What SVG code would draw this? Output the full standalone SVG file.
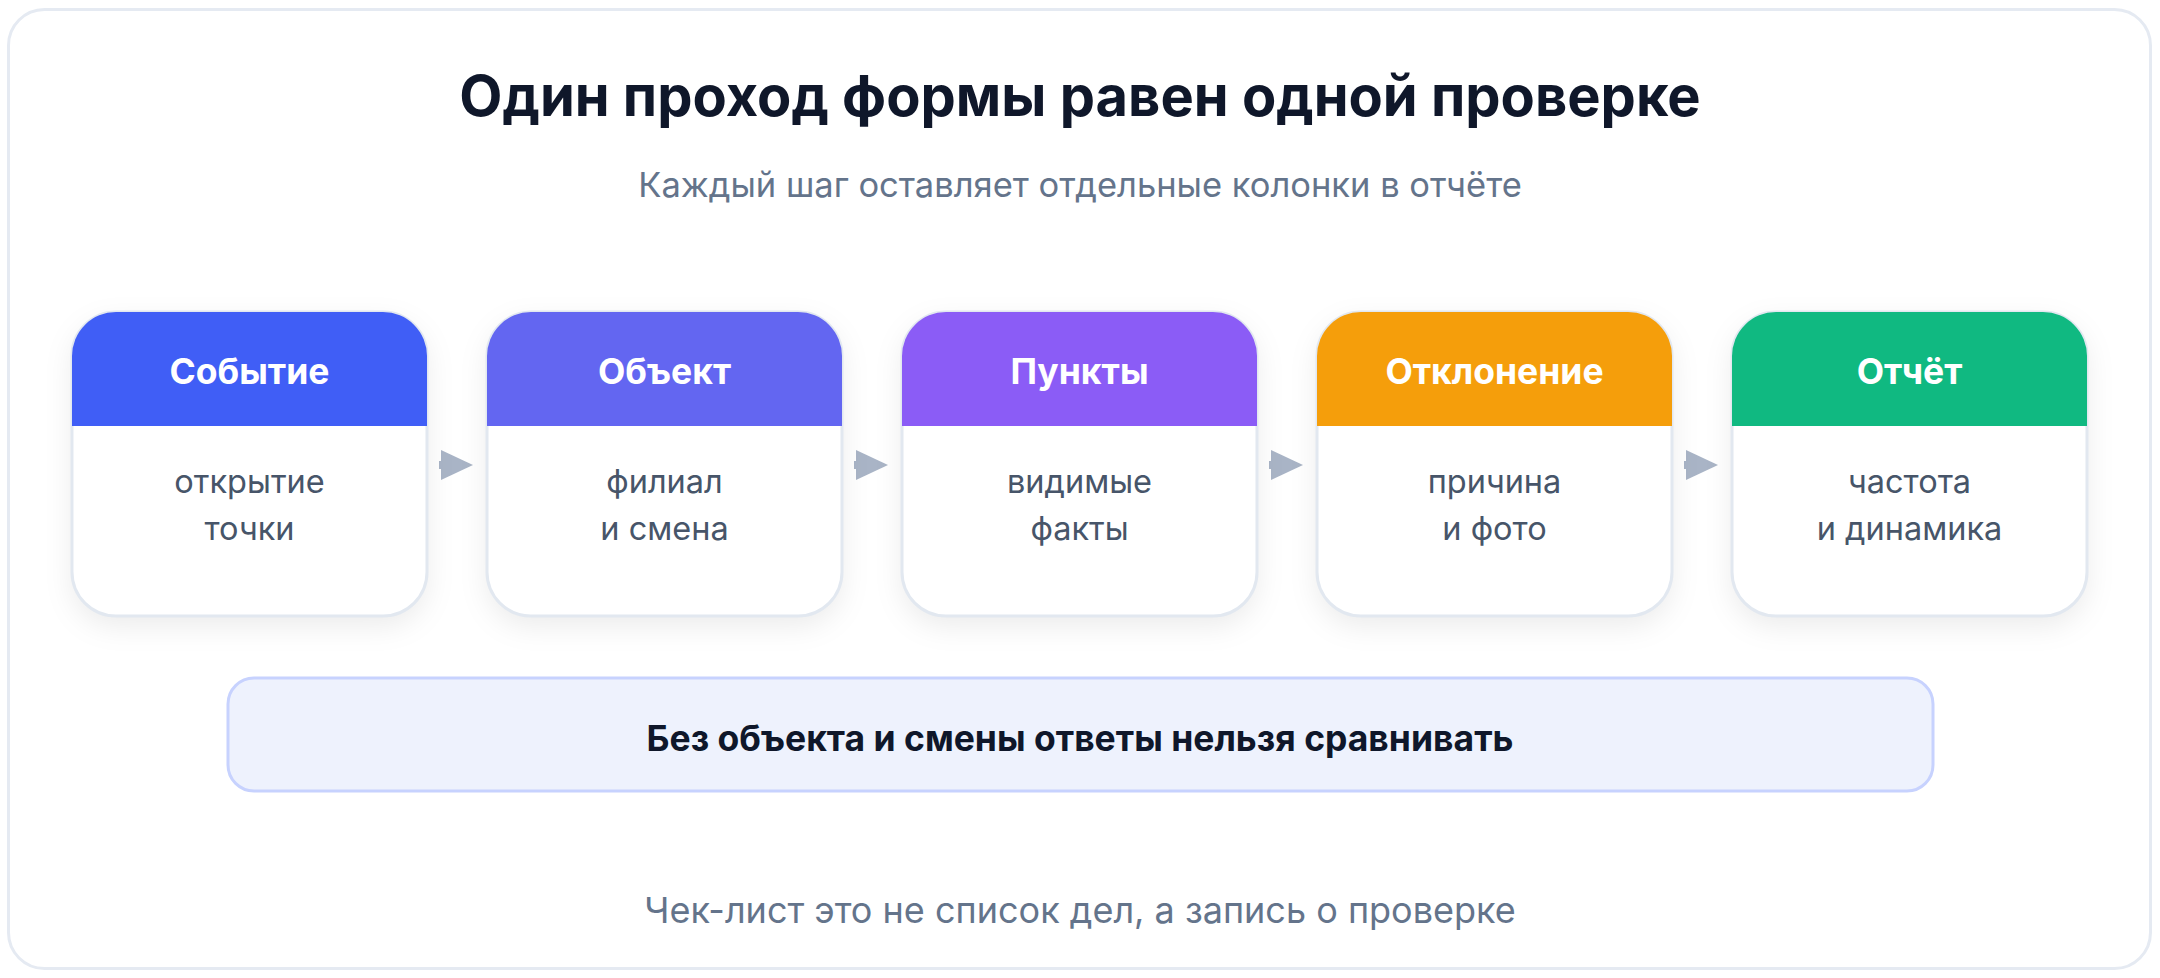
<svg xmlns="http://www.w3.org/2000/svg" width="2160" height="978" viewBox="0 0 2160 978">
  <style>
    .title { font-family: Inter, "Noto Sans", "Liberation Sans", sans-serif; font-weight: 700; font-size: 56px; fill: #0f172a; text-anchor: middle; }
    .sub { font-family: Inter, "Noto Sans", "Liberation Sans", sans-serif; font-weight: 400; font-size: 34.5px; fill: #64748b; text-anchor: middle; }
    .foot { font-family: Inter, "Noto Sans", "Liberation Sans", sans-serif; font-weight: 400; font-size: 36px; fill: #64748b; text-anchor: middle; }
    .hdr { font-family: Inter, "Noto Sans", "Liberation Sans", sans-serif; font-weight: 700; font-size: 35.5px; fill: #ffffff; text-anchor: middle; }
    .body { font-family: Inter, "Noto Sans", "Liberation Sans", sans-serif; font-weight: 400; font-size: 32.5px; fill: #475569; text-anchor: middle; }
    .note { font-family: Inter, "Noto Sans", "Liberation Sans", sans-serif; font-weight: 700; font-size: 35.5px; fill: #0f172a; text-anchor: middle; }
    .card { fill: #ffffff; filter: url(#shadow); }
    .outline { fill: none; stroke: #e2e8f0; stroke-width: 3; }
    .conn { stroke: #a9b4c6; stroke-width: 8; fill: none; marker-end: url(#arrow); }
  </style>
  <defs>
    <filter id="shadow" x="-20%" y="-20%" width="140%" height="150%">
      <feDropShadow dx="0" dy="10" stdDeviation="14" flood-color="#0f172a" flood-opacity="0.08"/>
    </filter>
    <marker id="arrow" markerUnits="userSpaceOnUse" markerWidth="34" markerHeight="32" refX="2" refY="16" orient="auto">
      <path d="M0,1 L32,16 L0,31 Z" fill="#a9b4c6"/>
    </marker>
  </defs>

  <rect x="0" y="0" width="2160" height="978" fill="#ffffff"/>
  <rect id="frame" x="8.5" y="9.5" width="2142" height="959" rx="36" fill="#ffffff" stroke="#e5eaf2" stroke-width="3"/>

  <g id="heading">
    <text class="title" x="1080" y="116">Один проход формы равен одной проверке</text>
    <text class="sub" x="1080" y="197">Каждый шаг оставляет отдельные колонки в отчёте</text>
  </g>

  <g id="connectors">
    <line class="conn" x1="439" y1="465" x2="443" y2="465"/>
    <line class="conn" x1="854" y1="465" x2="858" y2="465"/>
    <line class="conn" x1="1269" y1="465" x2="1273" y2="465"/>
    <line class="conn" x1="1684" y1="465" x2="1688" y2="465"/>
  </g>

  <g id="node-event">
    <rect class="card" x="72" y="312" width="355" height="304" rx="44"/>
    <rect class="outline" x="72" y="312" width="355" height="304" rx="44"/>
    <path d="M72,426 V356 A44,44 0 0 1 116,312 H383 A44,44 0 0 1 427,356 V426 Z" fill="#405ef6"/>
    <text class="hdr" x="249.5" y="384">Событие</text>
    <text class="body" x="249.5" y="493">открытие</text>
    <text class="body" x="249.5" y="540">точки</text>
  </g>

  <g id="node-object">
    <rect class="card" x="487" y="312" width="355" height="304" rx="44"/>
    <rect class="outline" x="487" y="312" width="355" height="304" rx="44"/>
    <path d="M487,426 V356 A44,44 0 0 1 531,312 H798 A44,44 0 0 1 842,356 V426 Z" fill="#6366f1"/>
    <text class="hdr" x="664.5" y="384">Объект</text>
    <text class="body" x="664.5" y="493">филиал</text>
    <text class="body" x="664.5" y="540">и смена</text>
  </g>

  <g id="node-points">
    <rect class="card" x="902" y="312" width="355" height="304" rx="44"/>
    <rect class="outline" x="902" y="312" width="355" height="304" rx="44"/>
    <path d="M902,426 V356 A44,44 0 0 1 946,312 H1213 A44,44 0 0 1 1257,356 V426 Z" fill="#8b5cf6"/>
    <text class="hdr" x="1079.5" y="384">Пункты</text>
    <text class="body" x="1079.5" y="493">видимые</text>
    <text class="body" x="1079.5" y="540">факты</text>
  </g>

  <g id="node-deviation">
    <rect class="card" x="1317" y="312" width="355" height="304" rx="44"/>
    <rect class="outline" x="1317" y="312" width="355" height="304" rx="44"/>
    <path d="M1317,426 V356 A44,44 0 0 1 1361,312 H1628 A44,44 0 0 1 1672,356 V426 Z" fill="#f59e0b"/>
    <text class="hdr" x="1494.5" y="384">Отклонение</text>
    <text class="body" x="1494.5" y="493">причина</text>
    <text class="body" x="1494.5" y="540">и фото</text>
  </g>

  <g id="node-report">
    <rect class="card" x="1732" y="312" width="355" height="304" rx="44"/>
    <rect class="outline" x="1732" y="312" width="355" height="304" rx="44"/>
    <path d="M1732,426 V356 A44,44 0 0 1 1776,312 H2043 A44,44 0 0 1 2087,356 V426 Z" fill="#10b981"/>
    <text class="hdr" x="1909.5" y="384">Отчёт</text>
    <text class="body" x="1909.5" y="493">частота</text>
    <text class="body" x="1909.5" y="540">и динамика</text>
  </g>

  <g id="note">
    <rect x="228" y="678" width="1705" height="113" rx="26" fill="#eef2fd" stroke="#c7d2fe" stroke-width="3"/>
    <text class="note" x="1080" y="751">Без объекта и смены ответы нельзя сравнивать</text>
  </g>

  <g id="footer">
    <text class="foot" x="1080" y="923">Чек-лист это не список дел, а запись о проверке</text>
  </g>
</svg>
